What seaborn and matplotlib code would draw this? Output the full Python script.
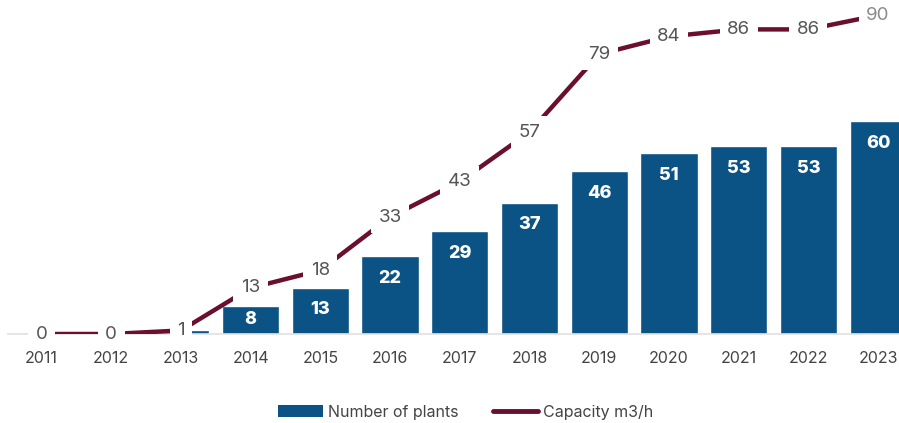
import matplotlib
matplotlib.use("Agg")
import matplotlib.pyplot as plt
import seaborn as sns
import pandas as pd
from matplotlib.patches import Patch
from matplotlib.lines import Line2D

years = ["2011", "2012", "2013", "2014", "2015", "2016", "2017", "2018", "2019", "2020", "2021", "2022", "2023"]
plants = [0, 0, 1, 8, 13, 22, 29, 37, 46, 51, 53, 53, 60]
capacity = [0, 0, 1, 13, 18, 33, 43, 57, 79, 84, 86, 86, 90]

BAR = "#0b5384"
LINE = "#6b0f2f"

sns.set_theme(style="white")
plt.rcParams["font.family"] = ["Inter", "DejaVu Sans"]

df = pd.DataFrame({"year": years, "plants": plants, "capacity": capacity})
df["x"] = range(len(years))

fig = plt.figure(figsize=(8.99, 4.23), dpi=100)
W, H = 899, 423
ax = fig.add_axes([8 / W, (H - 334) / H, (899 - 8) / W, 334 / H])

sns.barplot(data=df, x="year", y="plants", color=BAR, width=0.82, saturation=1, ax=ax)
sns.lineplot(data=df, x="x", y="capacity", color=LINE, linewidth=3.2, ax=ax, zorder=3)

ax.set_xlim(-0.48, 12.3)
ax.set_ylim(0, 94.3)
ax.set_xlabel("")
ax.set_ylabel("")
ax.set_yticks([])
for s in ["top", "right", "left"]:
    ax.spines[s].set_visible(False)
ax.spines["bottom"].set_color("#e0e0e0")
ax.spines["bottom"].set_linewidth(1.2)
ax.tick_params(axis="x", length=0, pad=12, labelsize=11.5, labelcolor="#444444")

# bar labels
px_per_unit = 334 / 94.3
for i, v in enumerate(plants):
    if v < 5:
        continue
    h_px = v * px_per_unit
    off_px = min(22, h_px / 2)
    ax.annotate(str(v), (i, v), xytext=(0, -off_px * 72 / 100), textcoords="offset points",
                ha="center", va="center", color="white", fontsize=13, fontweight="heavy", zorder=4)

# line labels
for i, v in enumerate(capacity):
    col = "#8a8a8a" if i == len(capacity) - 1 else "#555555"
    ax.text(i, v, str(v), ha="center", va="center", fontsize=13.5, color=col, zorder=5,
            bbox=dict(boxstyle="square,pad=0.4", facecolor="white", edgecolor="none"))

handles = [Patch(facecolor=BAR, edgecolor="none"),
           Line2D([0], [0], color=LINE, linewidth=3.5, solid_capstyle="round")]
fig.legend(handles, ["Number of plants", "Capacity m3/h"], loc="center", bbox_to_anchor=(0.518, (H - 412) / H),
           ncol=2, frameon=False, fontsize=11.5, handlelength=2.8, handleheight=0.8, columnspacing=2.2,
           labelcolor="#444444", handletextpad=0.3)

fig.savefig("out.png", dpi=100)
